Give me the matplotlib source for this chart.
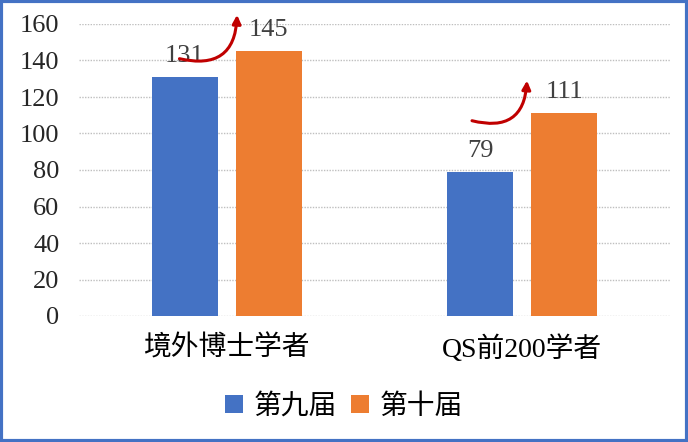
import matplotlib
matplotlib.use("Agg")
import matplotlib.pyplot as plt
from matplotlib.patches import Patch, Rectangle
import numpy as np

categories = ["境外博士学者", "QS前200学者"]
series_names = ["第九届", "第十届"]
values_9 = [131, 79]
values_10 = [145, 111]
yticks = [0, 20, 40, 60, 80, 100, 120, 140, 160]
# arrow annotations (tail -> head) in data coords
arrow_tails = [(-0.16, 141), (0.83, 107)]
arrow_heads = [(0.035, 165), (1.016, 129)]

colors = ["#4472C4", "#ED7D31"]
num_font = ["Liberation Serif", "Noto Sans CJK SC"]
cjk_font = ["Liberation Serif", "Noto Sans CJK SC"]

fig = plt.figure(figsize=(6.88, 4.42), dpi=100)
ax = fig.add_axes([79/688, 1-316/442, (670-79)/688, (316-24)/442])

x = np.arange(len(categories))
w = 0.223
off = 0.142
b1 = ax.bar(x - off, values_9, w, color=colors[0], zorder=3)
b2 = ax.bar(x + off, values_10, w, color=colors[1], zorder=3)

for bars, vals in ((b1, values_9), (b2, values_10)):
    for r, v in zip(bars, vals):
        ax.annotate(str(v), (r.get_x() + r.get_width()/2, v), xytext=(0, 11),
                    textcoords="offset points", ha="center", va="baseline",
                    fontsize=19, color="#404040", family=num_font, zorder=4)

ax.set_xlim(-0.5, 1.5)
ax.set_ylim(0, 160)
ax.set_yticks(yticks)
ax.set_yticklabels([str(t) for t in yticks], family=num_font, fontsize=19, color="#262626")
ax.set_xticks(x)
ax.set_xticklabels(categories, family=cjk_font, fontsize=20, color="black")
ax.tick_params(axis="both", length=0)
ax.tick_params(axis="y", pad=14)
ax.tick_params(axis="x", pad=14)
for s in ax.spines.values():
    s.set_visible(False)
ax.yaxis.grid(True, linestyle=(0, (1, 1)), color="#BFBFBF", lw=1, zorder=0)
ax.set_axisbelow(True)

for (tx, ty), (hx, hy) in zip(arrow_tails, arrow_heads):
    ax.annotate("", xy=(hx, hy), xytext=(tx, ty),
                arrowprops=dict(arrowstyle="-|>,head_length=0.5,head_width=0.25",
                                connectionstyle="arc3,rad=0.6", color="#C00000", lw=2.2,
                                shrinkA=0, shrinkB=0),
                annotation_clip=False, zorder=5)

handles = [Patch(facecolor=c, edgecolor="none") for c in colors]
fig.legend(handles, series_names, loc="center", bbox_to_anchor=(0.5, 1-407/442),
           ncol=2, frameon=False, prop={"family": cjk_font, "size": 20},
           handlelength=0.65, handleheight=0.65, handletextpad=0.4, columnspacing=0.5)

fig.patches.append(Rectangle((0.002, 0.003), 0.996, 0.994, transform=fig.transFigure,
                             fill=False, edgecolor="#4472C4", lw=3))

fig.savefig("out.png", dpi=100)
